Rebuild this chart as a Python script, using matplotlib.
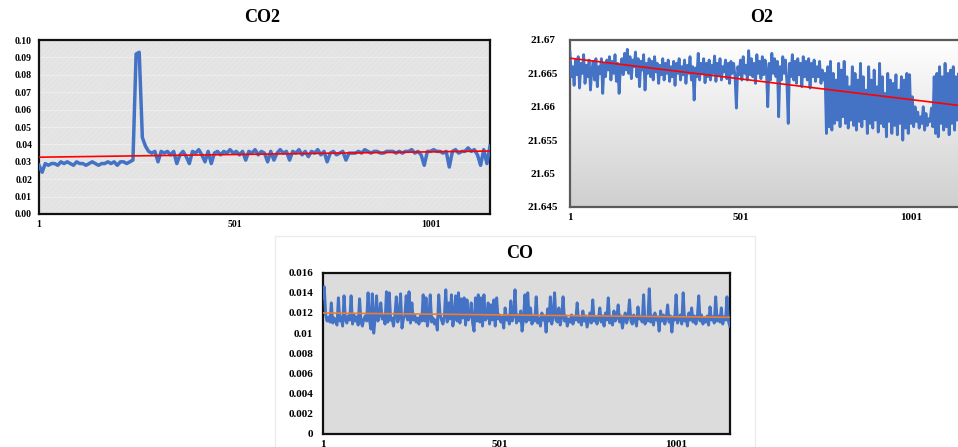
import numpy as np
import matplotlib
matplotlib.use("Agg")
from matplotlib import pyplot as plt
from matplotlib.patches import Rectangle

plt.rcParams['font.family'] = ['Liberation Serif', 'DejaVu Serif']
plt.rcParams['font.weight'] = 'bold'
plt.rcParams['hatch.linewidth'] = 0.4

xticks = [1, 501, 1001]

# CO2 readings, one every 8 samples
co2_step = 8
co2 = [0.028, 0.024, 0.029, 0.028, 0.029, 0.029, 0.028, 0.030, 0.029, 0.030,
       0.029, 0.028, 0.030, 0.029, 0.029, 0.028, 0.029, 0.030, 0.029, 0.028,
       0.029, 0.029, 0.030, 0.029, 0.030, 0.028, 0.030, 0.030, 0.029, 0.030,
       0.031, 0.092, 0.093, 0.044, 0.039, 0.036, 0.035, 0.036, 0.030, 0.036,
       0.035, 0.036, 0.034, 0.036, 0.029, 0.034, 0.036, 0.033, 0.029, 0.036,
       0.035, 0.037, 0.034, 0.030, 0.036, 0.029, 0.035, 0.036, 0.034, 0.036,
       0.035, 0.037, 0.035, 0.036, 0.034, 0.036, 0.031, 0.036, 0.035, 0.037,
       0.034, 0.036, 0.035, 0.030, 0.036, 0.031, 0.035, 0.037, 0.035, 0.036,
       0.031, 0.036, 0.035, 0.037, 0.034, 0.036, 0.033, 0.036, 0.035, 0.037,
       0.034, 0.036, 0.030, 0.035, 0.036, 0.034, 0.035, 0.036, 0.031, 0.035,
       0.035, 0.035, 0.036, 0.035, 0.037, 0.036, 0.035, 0.036, 0.036, 0.035,
       0.035, 0.036, 0.036, 0.036, 0.035, 0.036, 0.035, 0.036, 0.036, 0.037,
       0.035, 0.036, 0.034, 0.028, 0.036, 0.036, 0.037, 0.036, 0.036, 0.035,
       0.036, 0.027, 0.036, 0.037, 0.035, 0.036, 0.036, 0.038, 0.036, 0.037,
       0.034, 0.028, 0.037, 0.029, 0.039]

# O2 readings, one every 4 samples
o2_step = 4
o2 = [21.6682, 21.6645, 21.6660, 21.6632, 21.6670, 21.6648, 21.6675, 21.6628, 21.6665, 21.6650,
      21.6678, 21.6635, 21.6662, 21.6645, 21.6670, 21.6625, 21.6655, 21.6668, 21.6640, 21.6672,
      21.6630, 21.6660, 21.6650, 21.6672, 21.6620, 21.6665, 21.6645, 21.6670, 21.6655, 21.6675,
      21.6640, 21.6668, 21.6650, 21.6678, 21.6638, 21.6665, 21.6620, 21.6660, 21.6672, 21.6648,
      21.6680, 21.6655, 21.6686, 21.6650, 21.6675, 21.6642, 21.6670, 21.6660, 21.6682, 21.6645,
      21.6672, 21.6630, 21.6668, 21.6655, 21.6678, 21.6625, 21.6665, 21.6650, 21.6672, 21.6645,
      21.6668, 21.6640, 21.6675, 21.6652, 21.6665, 21.6635, 21.6662, 21.6648, 21.6672, 21.6640,
      21.6665, 21.6650, 21.6670, 21.6638, 21.6660, 21.6645, 21.6668, 21.6632, 21.6665, 21.6650,
      21.6672, 21.6640, 21.6660, 21.6648, 21.6670, 21.6635, 21.6662, 21.6650, 21.6675, 21.6640,
      21.6660, 21.6610, 21.6658, 21.6645, 21.6680, 21.6640, 21.6665, 21.6650, 21.6672, 21.6636,
      21.6665, 21.6645, 21.6670, 21.6640, 21.6662, 21.6650, 21.6676, 21.6638, 21.6665, 21.6648,
      21.6672, 21.6640, 21.6660, 21.6652, 21.6670, 21.6642, 21.6665, 21.6635, 21.6668, 21.6650,
      21.6665, 21.6645, 21.6598, 21.6660, 21.6648, 21.6670, 21.6640, 21.6675, 21.6650, 21.6662,
      21.6640, 21.6684, 21.6648, 21.6672, 21.6645, 21.6665, 21.6635, 21.6678, 21.6650, 21.6668,
      21.6642, 21.6675, 21.6648, 21.6670, 21.6655, 21.6600, 21.6665, 21.6640, 21.6680, 21.6650,
      21.6672, 21.6645, 21.6668, 21.6585, 21.6660, 21.6640, 21.6675, 21.6650, 21.6670, 21.6638,
      21.6575, 21.6665, 21.6645, 21.6678, 21.6640, 21.6668, 21.6635, 21.6672, 21.6648, 21.6665,
      21.6630, 21.6675, 21.6645, 21.6668, 21.6640, 21.6672, 21.6628, 21.6665, 21.6645, 21.6670,
      21.6638, 21.6660, 21.6645, 21.6668, 21.6635, 21.6655, 21.6640, 21.6650, 21.6560, 21.6660,
      21.6570, 21.6668, 21.6565, 21.6650, 21.6575, 21.6640, 21.6580, 21.6665, 21.6570, 21.6655,
      21.6585, 21.6668, 21.6575, 21.6645, 21.6568, 21.6630, 21.6580, 21.6660, 21.6572, 21.6650,
      21.6565, 21.6640, 21.6578, 21.6665, 21.6570, 21.6645, 21.6582, 21.6625, 21.6560, 21.6660,
      21.6575, 21.6640, 21.6568, 21.6655, 21.6580, 21.6630, 21.6562, 21.6665, 21.6575, 21.6645,
      21.6570, 21.6620, 21.6555, 21.6650, 21.6578, 21.6640, 21.6560, 21.6635, 21.6572, 21.6648,
      21.6558, 21.6625, 21.6575, 21.6645, 21.6550, 21.6640, 21.6568, 21.6650, 21.6560, 21.6648,
      21.6575, 21.6615, 21.6570, 21.6600, 21.6578, 21.6592, 21.6568, 21.6585, 21.6575, 21.6600,
      21.6565, 21.6590, 21.6572, 21.6582, 21.6578, 21.6598, 21.6570, 21.6645, 21.6560, 21.6650,
      21.6555, 21.6660, 21.6575, 21.6645, 21.6565, 21.6665, 21.6570, 21.6650, 21.6558, 21.6655,
      21.6575, 21.6660, 21.6565, 21.6645, 21.6580, 21.6650, 21.6570, 21.6655, 21.6585]

# CO readings, one every 4 samples
co_step = 4
co = [0.0135, 0.0146, 0.0118, 0.0112, 0.0116, 0.0111, 0.0130, 0.0110, 0.0115, 0.0112,
      0.0108, 0.0135, 0.0112, 0.0116, 0.0107, 0.0137, 0.0113, 0.0110, 0.0117, 0.0113,
      0.0137, 0.0109, 0.0118, 0.0112, 0.0116, 0.0108, 0.0134, 0.0111, 0.0107, 0.0114,
      0.0117, 0.0112, 0.0140, 0.0113, 0.0104, 0.0139, 0.0100, 0.0115, 0.0137, 0.0112,
      0.0118, 0.0130, 0.0114, 0.0117, 0.0109, 0.0141, 0.0111, 0.0140, 0.0113, 0.0115,
      0.0107, 0.0118, 0.0136, 0.0111, 0.0116, 0.0139, 0.0105, 0.0114, 0.0117, 0.0137,
      0.0113, 0.0141, 0.0110, 0.0130, 0.0113, 0.0118, 0.0111, 0.0115, 0.0109, 0.0117,
      0.0112, 0.0138, 0.0112, 0.0135, 0.0107, 0.0116, 0.0138, 0.0111, 0.0115, 0.0109,
      0.0113, 0.0103, 0.0138, 0.0118, 0.0113, 0.0109, 0.0117, 0.0143, 0.0111, 0.0130,
      0.0114, 0.0138, 0.0107, 0.0117, 0.0137, 0.0112, 0.0140, 0.0110, 0.0134, 0.0115,
      0.0135, 0.0108, 0.0133, 0.0113, 0.0117, 0.0130, 0.0110, 0.0102, 0.0135, 0.0112,
      0.0138, 0.0111, 0.0135, 0.0107, 0.0138, 0.0113, 0.0115, 0.0130, 0.0109, 0.0128,
      0.0113, 0.0133, 0.0107, 0.0135, 0.0114, 0.0118, 0.0111, 0.0116, 0.0105, 0.0125,
      0.0113, 0.0117, 0.0109, 0.0132, 0.0112, 0.0117, 0.0143, 0.0110, 0.0118, 0.0112,
      0.0122, 0.0102, 0.0114, 0.0138, 0.0111, 0.0140, 0.0113, 0.0125, 0.0109, 0.0117,
      0.0112, 0.0136, 0.0110, 0.0115, 0.0107, 0.0120, 0.0113, 0.0117, 0.0101, 0.0124,
      0.0112, 0.0136, 0.0109, 0.0117, 0.0140, 0.0113, 0.0111, 0.0125, 0.0108, 0.0116,
      0.0136, 0.0112, 0.0117, 0.0107, 0.0114, 0.0111, 0.0118, 0.0109, 0.0116, 0.0113,
      0.0130, 0.0111, 0.0115, 0.0108, 0.0122, 0.0112, 0.0117, 0.0106, 0.0113, 0.0120,
      0.0110, 0.0133, 0.0112, 0.0116, 0.0109, 0.0114, 0.0125, 0.0111, 0.0117, 0.0107,
      0.0120, 0.0113, 0.0135, 0.0110, 0.0116, 0.0108, 0.0122, 0.0112, 0.0115, 0.0128,
      0.0111, 0.0117, 0.0105, 0.0114, 0.0120, 0.0110, 0.0116, 0.0133, 0.0112, 0.0109,
      0.0118, 0.0113, 0.0107, 0.0126, 0.0114, 0.0116, 0.0111, 0.0138, 0.0109, 0.0115,
      0.0112, 0.0144, 0.0111, 0.0117, 0.0108, 0.0120, 0.0113, 0.0116, 0.0102, 0.0122,
      0.0112, 0.0118, 0.0109, 0.0115, 0.0128, 0.0111, 0.0117, 0.0101, 0.0116, 0.0113,
      0.0138, 0.0110, 0.0114, 0.0118, 0.0109, 0.0140, 0.0112, 0.0116, 0.0107, 0.0120,
      0.0113, 0.0125, 0.0111, 0.0117, 0.0109, 0.0115, 0.0137, 0.0112, 0.0118, 0.0109,
      0.0115, 0.0111, 0.0117, 0.0108, 0.0126, 0.0113, 0.0116, 0.0110, 0.0136, 0.0112,
      0.0117, 0.0111, 0.0125, 0.0109, 0.0116, 0.0113, 0.0136, 0.0112, 0.0107]

co2_yticks = [0.00, 0.01, 0.02, 0.03, 0.04, 0.05, 0.06, 0.07, 0.08, 0.09, 0.10]
co2_ylabels = ['0.00', '0.01', '0.02', '0.03', '0.04', '0.05', '0.06', '0.07', '0.08', '0.09', '0.10']
o2_yticks = [21.645, 21.65, 21.655, 21.66, 21.665, 21.67]
o2_ylabels = ['21.645', '21.65', '21.655', '21.66', '21.665', '21.67']
co_yticks = [0, 0.002, 0.004, 0.006, 0.008, 0.01, 0.012, 0.014, 0.016]
co_ylabels = ['0', '0.002', '0.004', '0.006', '0.008', '0.01', '0.012', '0.014', '0.016']

blue = '#4472c4'

fig = plt.figure(figsize=(9.58, 4.47), dpi=100)


def draw(ax, vals, step, yticks, ylabels, trend_color, lw, spine_color, ypad, yha, fs):
    y = np.array(vals)
    x = np.arange(1, 1 + step * len(y), step)
    ax.plot(x, y, color=blue, lw=lw, zorder=3)
    k, b = np.polyfit(x, y, 1)
    ax.plot([x[0], x[-1]], [k * x[0] + b, k * x[-1] + b], color=trend_color, lw=1.2, zorder=4)
    ax.set_xlim(x[0], x[-1])
    ax.set_ylim(yticks[0], yticks[-1])
    ax.set_xticks(xticks)
    ax.set_xticklabels([str(t) for t in xticks], fontsize=fs, fontweight='bold')
    ax.set_yticks(yticks)
    ax.set_yticklabels(ylabels, fontsize=fs, fontweight='bold', ha=yha)
    ax.tick_params(axis='both', length=0)
    ax.tick_params(axis='y', pad=ypad)
    ax.tick_params(axis='x', pad=4)
    for s in ax.spines.values():
        s.set_color(spine_color)
        s.set_linewidth(1.6)


# CO2
ax1 = fig.add_axes([0.0407, 0.5213, 0.4708, 0.389])
ax1.set_facecolor('#e3e3e3')
ax1.add_patch(Rectangle((0, 0), 1, 1, transform=ax1.transAxes, facecolor='none',
                        edgecolor='#ebebeb', hatch='//////', lw=0, zorder=0))
for t in co2_yticks[1:-1]:
    ax1.axhline(t, color='#f0f0f0', lw=0.6, zorder=1)
draw(ax1, co2, co2_step, co2_yticks, co2_ylabels, '#ff0000', 2.5, '#111111', 5, 'right', 7)

# O2
ax2 = fig.add_axes([0.595, 0.537, 0.41, 0.3736])
grad = np.linspace(0, 1, 256).reshape(-1, 1)
ax2.imshow(grad, extent=(0, 1, 0, 1), transform=ax2.transAxes, aspect='auto',
           cmap=matplotlib.colors.LinearSegmentedColormap.from_list('g', ['#ffffff', '#cfcfcf']),
           zorder=0)
draw(ax2, o2, o2_step, o2_yticks, o2_ylabels, '#ff0000', 2.0, '#5a5a5a', 19.5, 'center', 8)

# CO
ax3 = fig.add_axes([0.337, 0.0291, 0.4248, 0.361])
ax3.set_facecolor('#dcdcdc')
draw(ax3, co, co_step, co_yticks, co_ylabels, '#ed7d31', 2.1, '#111111', 7, 'right', 8)

# faint frame around the lower panel
fig.add_artist(Rectangle((275 / 958, -0.01), 480 / 958, (447 - 236) / 447 + 0.01,
                         transform=fig.transFigure, facecolor='none',
                         edgecolor='#ececec', lw=1.0))

fig.text(262 / 958, 1 - 17 / 447, 'CO2', ha='center', va='center', fontsize=13, fontweight='bold')
fig.text(762 / 958, 1 - 17 / 447, 'O2', ha='center', va='center', fontsize=13, fontweight='bold')
fig.text(520 / 958, 1 - 253 / 447, 'CO', ha='center', va='center', fontsize=13, fontweight='bold')

fig.savefig('out.png', dpi=100)
